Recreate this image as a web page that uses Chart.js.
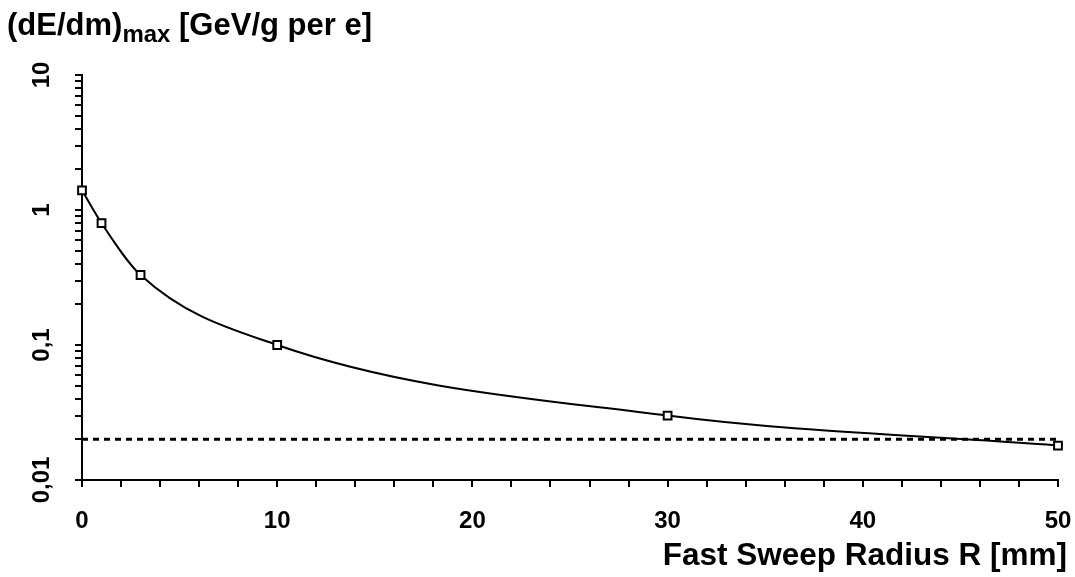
<!DOCTYPE html>
<html>
<head>
<meta charset="utf-8">
<script src="https://cdn.jsdelivr.net/npm/chart.js@4"></script>
<style>
  html, body { margin: 0; padding: 0; background: #fff; }
  #wrap { position: relative; width: 1075px; height: 577px; font-family: "Liberation Sans", Arial, sans-serif; font-weight: bold; color: #000; }
  #wrap canvas { position: absolute; left: 0; top: 0; }
  .title { position: absolute; font-size: 31px; line-height: 1; white-space: nowrap; z-index: 2; }
  #yTitle { left: 7px; top: 9px; }
  #yTitle sub { font-size: 24px; line-height: 0; vertical-align: -7px; }
  #xTitle { right: 8px; top: 539px; font-size: 31.5px; }
</style>
</head>
<body>
<div id="wrap">
  <div class="title" id="yTitle">(dE/dm)<sub>max</sub> [GeV/g per e]</div>
  <div class="title" id="xTitle">Fast Sweep Radius R [mm]</div>
  <canvas id="chart" width="1075" height="577"></canvas>
</div>
<script>
// Data
const radiusMm = [0, 1, 3, 10, 30, 50];
const dEdmMax = [1.4, 0.8, 0.33, 0.1, 0.03, 0.018];

// dotted limit line
const limitX = [0, 50];
const limitY = [0.02, 0.02];

// axis ticks
const xTickValues = [0, 10, 20, 30, 40, 50];
const xTickLabels = ["0", "10", "20", "30", "40", "50"];
const yMajorValues = [0.01, 0.1, 1, 10];
const yTickLabels = ["0,01", "0,1", "1", "10"];

const FONT = "'Liberation Sans', Arial, sans-serif";

// log ticks: every 1..9 of each decade, labels only on the decades
function logTicks() {
  const out = [];
  for (let d = 0; d < yMajorValues.length - 1; d++) {
    for (let k = 1; k < 10; k++) out.push(+(yMajorValues[d] * k).toPrecision(6));
  }
  out.push(yMajorValues[yMajorValues.length - 1]);
  return out;
}

function labelFor(values, labels, v) {
  const i = values.findIndex(m => Math.abs(m - v) < 1e-9 * Math.max(1, Math.abs(m)));
  return i >= 0 ? labels[i] : "";
}

const ctx = document.getElementById("chart").getContext("2d");

new Chart(ctx, {
  type: "line",
  data: {
    datasets: [
      {
        label: "limit",
        data: limitX.map((x, i) => ({ x, y: limitY[i] })),
        borderColor: "#000",
        borderWidth: 3,
        borderDash: [6, 5],
        pointRadius: 0,
        fill: false,
        clip: false,
      },
      {
        label: "dE/dm max",
        data: radiusMm.map((x, i) => ({ x, y: dEdmMax[i] })),
        borderColor: "#000",
        borderWidth: 2,
        cubicInterpolationMode: "monotone",
        pointStyle: "rect",
        pointRadius: 5.5,
        pointBackgroundColor: "#fff",
        pointBorderColor: "#000",
        pointBorderWidth: 2,
        fill: false,
        clip: false,
      },
    ],
  },
  options: {
    responsive: false,
    animation: false,
    events: [],
    layout: { padding: { left: 0, top: 75, right: 17, bottom: 0 } },
    plugins: {
      legend: { display: false },
      tooltip: { enabled: false },
    },
    scales: {
      x: {
        type: "linear",
        min: 0,
        max: 50,
        afterFit: s => { s.height = 97; s.paddingLeft = 0; s.paddingRight = 0; },
        ticks: {
          stepSize: 2,
          autoSkip: false,
          maxRotation: 0,
          padding: 20,
          color: "#000",
          font: { family: FONT, size: 24, weight: "bold" },
          callback: v => labelFor(xTickValues, xTickLabels, v),
        },
        grid: { drawOnChartArea: false, drawTicks: true, tickLength: 7, color: "#000", lineWidth: 2 },
        border: { display: true, color: "#000", width: 2 },
      },
      y: {
        type: "logarithmic",
        min: 0.01,
        max: 10,
        afterBuildTicks: s => { s.ticks = logTicks().map(v => ({ value: v })); },
        afterFit: s => { s.width = 82; s.paddingTop = 0; s.paddingBottom = 0; },
        ticks: {
          autoSkip: false,
          minRotation: 90,
          maxRotation: 90,
          crossAlign: "center",
          padding: 9,
          color: "#000",
          font: { family: FONT, size: 24, weight: "bold" },
          callback: v => labelFor(yMajorValues, yTickLabels, v),
        },
        grid: { drawOnChartArea: false, drawTicks: true, tickLength: 7, color: "#000", lineWidth: 2 },
        border: { display: true, color: "#000", width: 2 },
      },
    },
  },
});
</script>
</body>
</html>
